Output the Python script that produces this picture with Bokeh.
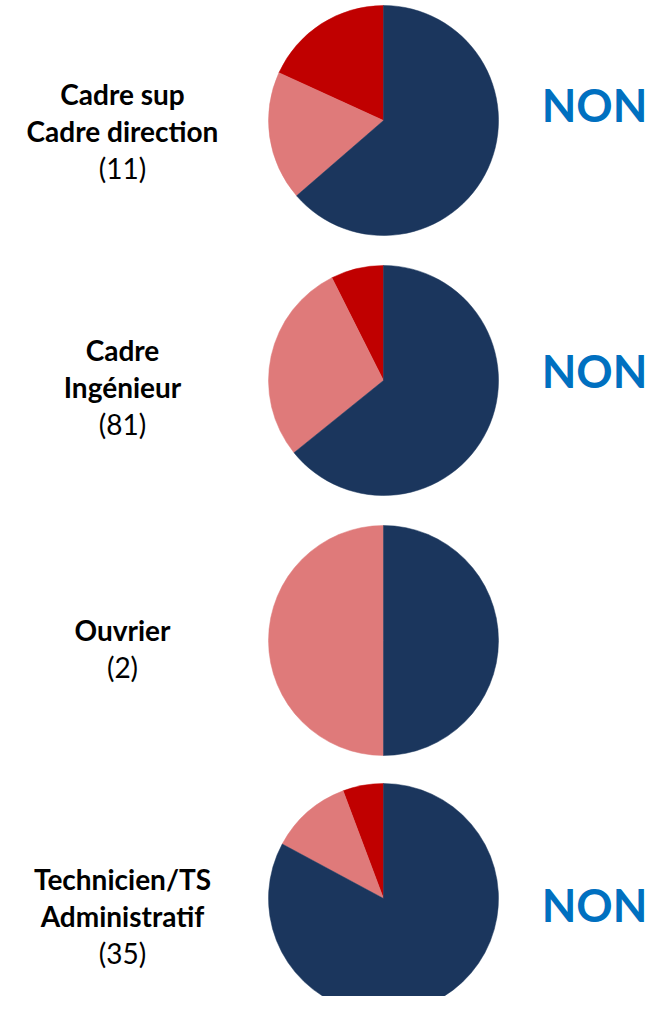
import math
from bokeh.plotting import figure
from bokeh.models import Range1d, ColumnDataSource
from bokeh.core.properties import value
from bokeh.embed import file_html
from bokeh.resources import INLINE

# ---- data ----
categories = ["Cadre sup\nCadre direction", "Cadre\nIngénieur", "Ouvrier", "Technicien/TS\nAdministratif"]
totals = [11, 81, 2, 35]
navy_vals = [7, 52, 1, 29]
salmon_vals = [2, 23, 1, 4]
red_vals = [2, 6, 0, 2]
verdict = ["NON", "NON", "", "NON"]

# ---- layout (page pixel coordinates, y measured from top of window) ----
W, H = 648, 996
pie_cx = 383
pie_cy = [120, 380, 640, 898]
pie_r = 115
label_x = 122
label_cy = [130, 386, 648, 915]
line_gap = 37
non_x = 594
non_cy = [104, 370, 0, 904]

NAVY = "#1B365D"
SALMON = "#DF7A7A"
RED = "#C00000"
BLUE = "#0070C0"


def Y(py):
    return 1012 - py


p = figure(width=W, height=H, output_backend="svg", toolbar_location=None,
           x_range=Range1d(0, W), y_range=Range1d(1012 - H, 1012),
           min_border=0)
p.axis.visible = False
p.grid.visible = False
p.outline_line_color = None
p.background_fill_color = "white"
p.border_fill_color = "white"

# wedges: going anticlockwise from 12 o'clock: red, salmon, then navy
xs, ys, starts, ends, colors = [], [], [], [], []
for i in range(len(categories)):
    tot = navy_vals[i] + salmon_vals[i] + red_vals[i]
    a = math.pi / 2
    for v, c in ((red_vals[i], RED), (salmon_vals[i], SALMON), (navy_vals[i], NAVY)):
        if v == 0:
            continue
        span = 2 * math.pi * v / tot
        xs.append(pie_cx)
        ys.append(Y(pie_cy[i]))
        starts.append(a)
        ends.append(a + span)
        colors.append(c)
        a += span

src = ColumnDataSource(dict(x=xs, y=ys, s=starts, e=ends, c=colors))
p.wedge(x="x", y="y", radius=pie_r, start_angle="s", end_angle="e",
        fill_color="c", line_color="c", line_width=0.5, source=src)

# labels
bx, by, bt = [], [], []
nx, ny, nt = [], [], []
for i, cat in enumerate(categories):
    lines = cat.split("\n")
    allines = lines + ["(%d)" % totals[i]]
    n = len(allines)
    top = label_cy[i] - (n - 1) * line_gap / 2
    for j, t in enumerate(lines):
        bx.append(label_x)
        by.append(Y(top + j * line_gap))
        bt.append(t)
    nx.append(label_x)
    ny.append(Y(top + (n - 1) * line_gap))
    nt.append(allines[-1])

p.text(x=bx, y=by, text=bt, text_font=value("Lato"), text_font_style="bold",
       text_font_size="28px", text_align="center", text_baseline="middle", text_color="black")
p.text(x=nx, y=ny, text=nt, text_font=value("Lato"), text_font_style="normal",
       text_font_size="28px", text_align="center", text_baseline="middle", text_color="black")

vx, vy, vt = [], [], []
for i, v in enumerate(verdict):
    if v:
        vx.append(non_x)
        vy.append(Y(non_cy[i]))
        vt.append(v)
p.text(x=vx, y=vy, text=vt, text_font=value("Lato"), text_font_style="bold",
       text_font_size="45px", text_align="center", text_baseline="middle", text_color=BLUE)

open("out.html", "w").write(file_html(p, INLINE))
